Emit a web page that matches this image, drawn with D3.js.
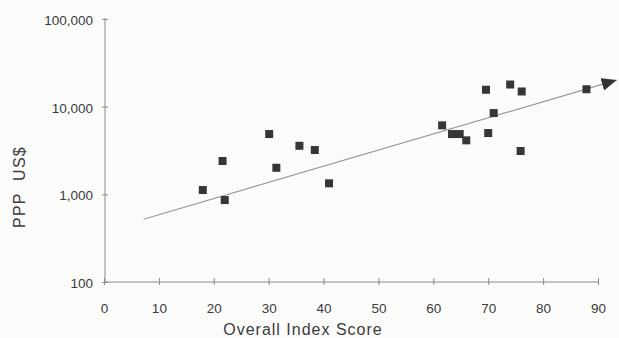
<!DOCTYPE html>
<html>
<head>
<meta charset="utf-8">
<script src="https://cdn.jsdelivr.net/npm/d3@7/dist/d3.min.js"></script>
<style>
  html, body { margin: 0; padding: 0; background: #fbfbfa; }
  svg { display: block; font-family: "Liberation Sans", Arial, sans-serif; }
</style>
</head>
<body>
<svg id="chart" width="619" height="338"></svg>
<script>
// values: overall index score vs PPP US$
const scores = [18.0, 21.6, 22.0, 30.1, 31.4, 35.6, 38.4, 41.0, 61.6, 63.4, 64.8, 66.0, 69.6, 70.0, 71.0, 74.0, 76.1, 75.9, 87.9]
const ppp = [1120, 2400, 860, 4870, 2010, 3580, 3200, 1335, 6120, 4870, 4870, 4130, 15600, 5000, 8450, 17900, 14900, 3120, 15800]

// trend line end points (score, ppp)
const trendScores = [7.2, 93.4]
const trendPpp = [520, 20100]

const xTicks = [0, 10, 20, 30, 40, 50, 60, 70, 80, 90]
const yTicks = [100, 1000, 10000, 100000]

const svg = d3.select('#chart')

const x = d3.scaleLinear().domain([0, 90]).range([104, 598])
const y = d3.scaleLog().domain([100, 100000]).range([282, 19])

const axisColor = '#8a8a8a'
const textColor = '#3c3c3c'

// x axis
const gx = svg.append('g')
  .attr('transform', `translate(0,${y(100)})`)
  .call(d3.axisBottom(x).tickValues(xTicks).tickFormat(d3.format('d')).tickSizeOuter(0).tickSize(4))
gx.select('.domain').attr('stroke', axisColor).attr('d', `M${x(0)},0H${x(90)}`)
gx.selectAll('.tick line').attr('stroke', axisColor).attr('y1', -4).attr('y2', 3)
gx.selectAll('.tick text')
  .attr('y', 21).attr('dy', '0.71em')
  .attr('fill', textColor).attr('font-size', 13.5)
  .attr('font-family', '"Liberation Sans", Arial, sans-serif')

// y axis
const gy = svg.append('g')
  .attr('transform', `translate(${x(0) + 1},0)`)
  .call(d3.axisLeft(y).tickValues(yTicks).tickFormat(d3.format(',')).tickSizeOuter(0).tickSize(3))
gy.select('.domain').attr('stroke', axisColor).attr('d', `M0,${y(100000) - 1}V${y(100)}`)
gy.selectAll('.tick line').attr('stroke', axisColor).attr('x1', -3).attr('x2', 3)
gy.selectAll('.tick text')
  .attr('x', -12).attr('dy', '0.4em')
  .attr('fill', textColor).attr('font-size', 13.5)
  .attr('font-family', '"Liberation Sans", Arial, sans-serif')

// arrow head for the trend line
svg.append('defs').append('marker')
  .attr('id', 'arrow')
  .attr('viewBox', '0 0 15 13')
  .attr('refX', 15).attr('refY', 6.5)
  .attr('markerWidth', 15).attr('markerHeight', 13)
  .attr('markerUnits', 'userSpaceOnUse')
  .attr('orient', 'auto')
  .append('path')
  .attr('d', 'M0,0L15,6.5L0,13Z')
  .attr('fill', '#333')

const line = d3.line()
  .x((d, i) => x(trendScores[i]))
  .y((d, i) => y(trendPpp[i]))

svg.append('path')
  .datum(trendScores)
  .attr('d', line)
  .attr('fill', 'none')
  .attr('stroke', '#9a9a9a')
  .attr('stroke-width', 1.2)
  .attr('marker-end', 'url(#arrow)')

// points
const s = 8
svg.append('g')
  .selectAll('rect')
  .data(scores)
  .join('rect')
  .attr('x', (d) => x(d) - s / 2)
  .attr('y', (d, i) => y(ppp[i]) - s / 2)
  .attr('width', s)
  .attr('height', s)
  .attr('fill', '#363636')

// axis titles
svg.append('text')
  .attr('x', 303).attr('y', 335)
  .attr('text-anchor', 'middle')
  .attr('font-size', 16)
  .attr('letter-spacing', 1)
  .attr('fill', textColor)
  .text('Overall Index Score')

svg.append('text')
  .attr('transform', 'translate(25,187) rotate(-90)')
  .attr('text-anchor', 'middle')
  .attr('font-size', 16)
  .attr('letter-spacing', 1.3)
  .attr('fill', textColor)
  .style('white-space', 'pre')
  .text('PPP  US$')
</script>
</body>
</html>
